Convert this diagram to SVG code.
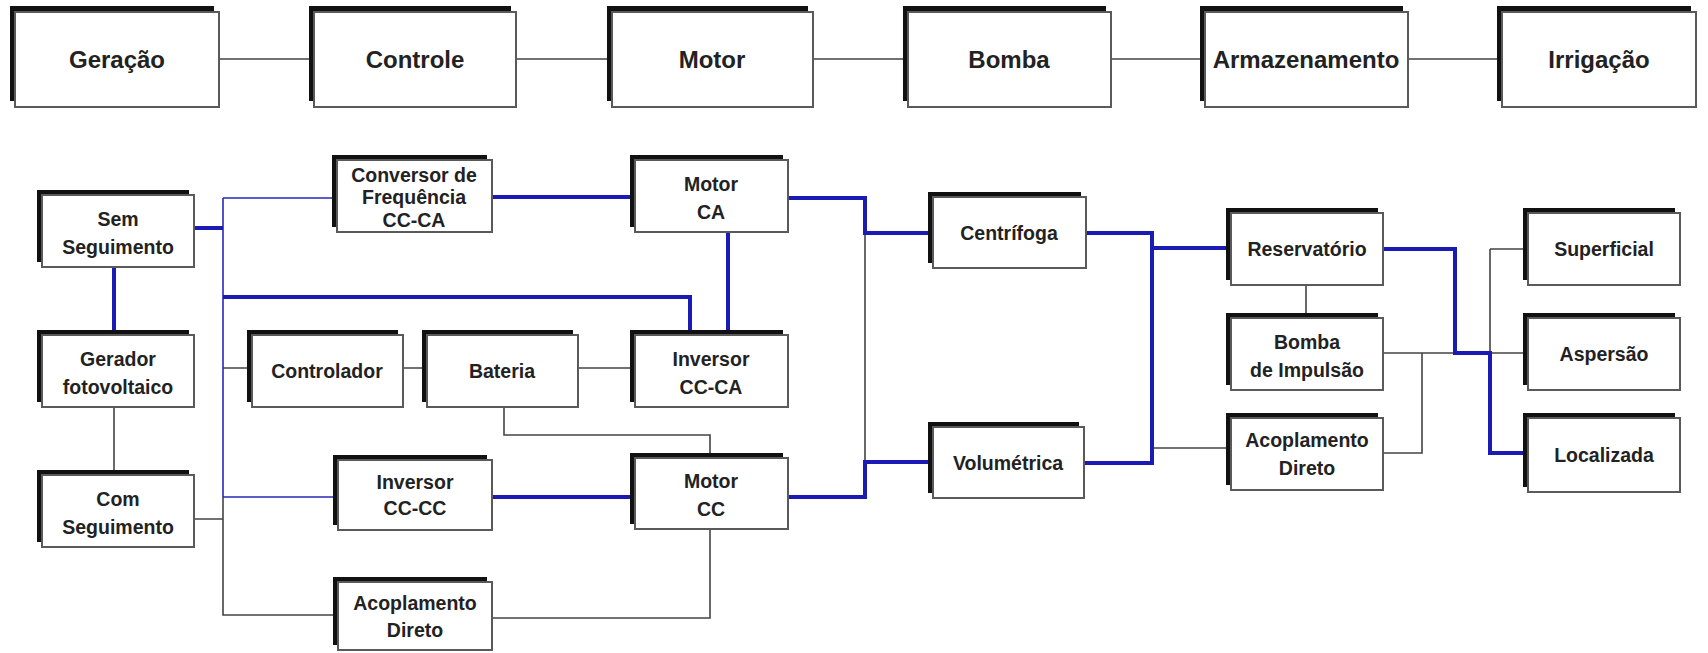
<svg xmlns="http://www.w3.org/2000/svg" width="1708" height="653" viewBox="0 0 1708 653">
<style>
.sh{fill:#111}
.bx{fill:#fff;stroke:#5a5a5a;stroke-width:2}
.t{font-family:"Liberation Sans",Arial,sans-serif;font-weight:bold;fill:#222;text-anchor:middle}
.tt{font-size:24px}
.tl{font-size:19.5px}
.g{stroke:#444;stroke-width:1.6;fill:none}
.bt{stroke:#2828b8;stroke-width:1.6;fill:none}
.bk{stroke:#1a1ab4;stroke-width:4;fill:none}
</style>
<rect width="1708" height="653" fill="#fff"/>
<g id="connectors">
<path class="g" d="M219,59H314M516,59H612M813,59H908M1111,59H1205M1408,59H1502"/>
<path class="g" d="M114,407V475M223,497V615H338M194,519H223M223,368H252M403,368H427M578,368H635M865,233V462M504,407V435H710V458M710,529V618H492M1152,448H1231M1306,285V318M1383,353H1528M1490,249H1528M1490,249V353M1422,353V453H1383"/>
<path class="bt" d="M223,198V497M223,198H337M223,497H338"/>
<path class="bk" d="M114,267V335M194,228H223M223,297H690V335M492,197H635M728,232V335M788,198H865V233H933M492,497H635M788,497H865V462H933M1086,233H1152V463H1084M1152,248H1231M1383,249H1455V353H1490V453H1528"/>
</g>
<g id="n-geracao"><rect class="sh" x="10" y="6" width="204" height="95"/><rect class="bx" x="15" y="12" width="204" height="95"/><text class="t tt" x="117" y="68">Geração</text></g>
<g id="n-controle"><rect class="sh" x="309" y="6" width="202" height="95"/><rect class="bx" x="314" y="12" width="202" height="95"/><text class="t tt" x="415" y="68">Controle</text></g>
<g id="n-motor"><rect class="sh" x="607" y="6" width="201" height="95"/><rect class="bx" x="612" y="12" width="201" height="95"/><text class="t tt" x="712" y="68">Motor</text></g>
<g id="n-bomba"><rect class="sh" x="903" y="6" width="203" height="95"/><rect class="bx" x="908" y="12" width="203" height="95"/><text class="t tt" x="1009" y="68">Bomba</text></g>
<g id="n-armazenamento"><rect class="sh" x="1200" y="6" width="203" height="95"/><rect class="bx" x="1205" y="12" width="203" height="95"/><text class="t tt" x="1306" y="68">Armazenamento</text></g>
<g id="n-irrigacao"><rect class="sh" x="1497" y="6" width="194" height="95"/><rect class="bx" x="1502" y="12" width="194" height="95"/><text class="t tt" x="1599" y="68">Irrigação</text></g>

<g id="n-sem"><rect class="sh" x="37" y="190" width="152" height="72"/><rect class="bx" x="42" y="195" width="152" height="72"/><text class="t tl" x="118" y="226">Sem</text><text class="t tl" x="118" y="254">Seguimento</text></g>
<g id="n-gerador"><rect class="sh" x="37" y="330" width="152" height="72"/><rect class="bx" x="42" y="335" width="152" height="72"/><text class="t tl" x="118" y="366">Gerador</text><text class="t tl" x="118" y="394">fotovoltaico</text></g>
<g id="n-com"><rect class="sh" x="37" y="470" width="152" height="72"/><rect class="bx" x="42" y="475" width="152" height="72"/><text class="t tl" x="118" y="506">Com</text><text class="t tl" x="118" y="534">Seguimento</text></g>
<g id="n-conversor"><rect class="sh" x="332" y="155" width="155" height="72"/><rect class="bx" x="337" y="160" width="155" height="72"/><text class="t tl" x="414" y="182">Conversor de</text><text class="t tl" x="414" y="204">Frequência</text><text class="t tl" x="414" y="227">CC-CA</text></g>
<g id="n-controlador"><rect class="sh" x="247" y="330" width="151" height="72"/><rect class="bx" x="252" y="335" width="151" height="72"/><text class="t tl" x="327" y="378">Controlador</text></g>
<g id="n-bateria"><rect class="sh" x="422" y="330" width="151" height="72"/><rect class="bx" x="427" y="335" width="151" height="72"/><text class="t tl" x="502" y="378">Bateria</text></g>
<g id="n-inversor-ca"><rect class="sh" x="630" y="330" width="153" height="72"/><rect class="bx" x="635" y="335" width="153" height="72"/><text class="t tl" x="711" y="366">Inversor</text><text class="t tl" x="711" y="394">CC-CA</text></g>
<g id="n-motor-ca"><rect class="sh" x="630" y="155" width="153" height="72"/><rect class="bx" x="635" y="160" width="153" height="72"/><text class="t tl" x="711" y="191">Motor</text><text class="t tl" x="711" y="219">CA</text></g>
<g id="n-inversor-cc"><rect class="sh" x="333" y="455" width="154" height="70"/><rect class="bx" x="338" y="460" width="154" height="70"/><text class="t tl" x="415" y="489">Inversor</text><text class="t tl" x="415" y="515">CC-CC</text></g>
<g id="n-motor-cc"><rect class="sh" x="630" y="453" width="153" height="71"/><rect class="bx" x="635" y="458" width="153" height="71"/><text class="t tl" x="711" y="488">Motor</text><text class="t tl" x="711" y="516">CC</text></g>
<g id="n-acoplamento1"><rect class="sh" x="333" y="577" width="154" height="68"/><rect class="bx" x="338" y="582" width="154" height="68"/><text class="t tl" x="415" y="610">Acoplamento</text><text class="t tl" x="415" y="637">Direto</text></g>
<g id="n-centrifoga"><rect class="sh" x="928" y="192" width="153" height="71"/><rect class="bx" x="933" y="197" width="153" height="71"/><text class="t tl" x="1009" y="240">Centrífoga</text></g>
<g id="n-volumetrica"><rect class="sh" x="928" y="422" width="151" height="71"/><rect class="bx" x="933" y="427" width="151" height="71"/><text class="t tl" x="1008" y="470">Volumétrica</text></g>
<g id="n-reservatorio"><rect class="sh" x="1226" y="208" width="152" height="72"/><rect class="bx" x="1231" y="213" width="152" height="72"/><text class="t tl" x="1307" y="256">Reservatório</text></g>
<g id="n-bomba-impulsao"><rect class="sh" x="1226" y="313" width="152" height="72"/><rect class="bx" x="1231" y="318" width="152" height="72"/><text class="t tl" x="1307" y="349">Bomba</text><text class="t tl" x="1307" y="377">de Impulsão</text></g>
<g id="n-acoplamento2"><rect class="sh" x="1226" y="413" width="152" height="72"/><rect class="bx" x="1231" y="418" width="152" height="72"/><text class="t tl" x="1307" y="447">Acoplamento</text><text class="t tl" x="1307" y="475">Direto</text></g>
<g id="n-superficial"><rect class="sh" x="1523" y="208" width="152" height="72"/><rect class="bx" x="1528" y="213" width="152" height="72"/><text class="t tl" x="1604" y="256">Superficial</text></g>
<g id="n-aspersao"><rect class="sh" x="1523" y="313" width="152" height="72"/><rect class="bx" x="1528" y="318" width="152" height="72"/><text class="t tl" x="1604" y="361">Aspersão</text></g>
<g id="n-localizada"><rect class="sh" x="1523" y="413" width="152" height="74"/><rect class="bx" x="1528" y="418" width="152" height="74"/><text class="t tl" x="1604" y="462">Localizada</text></g>
</svg>
